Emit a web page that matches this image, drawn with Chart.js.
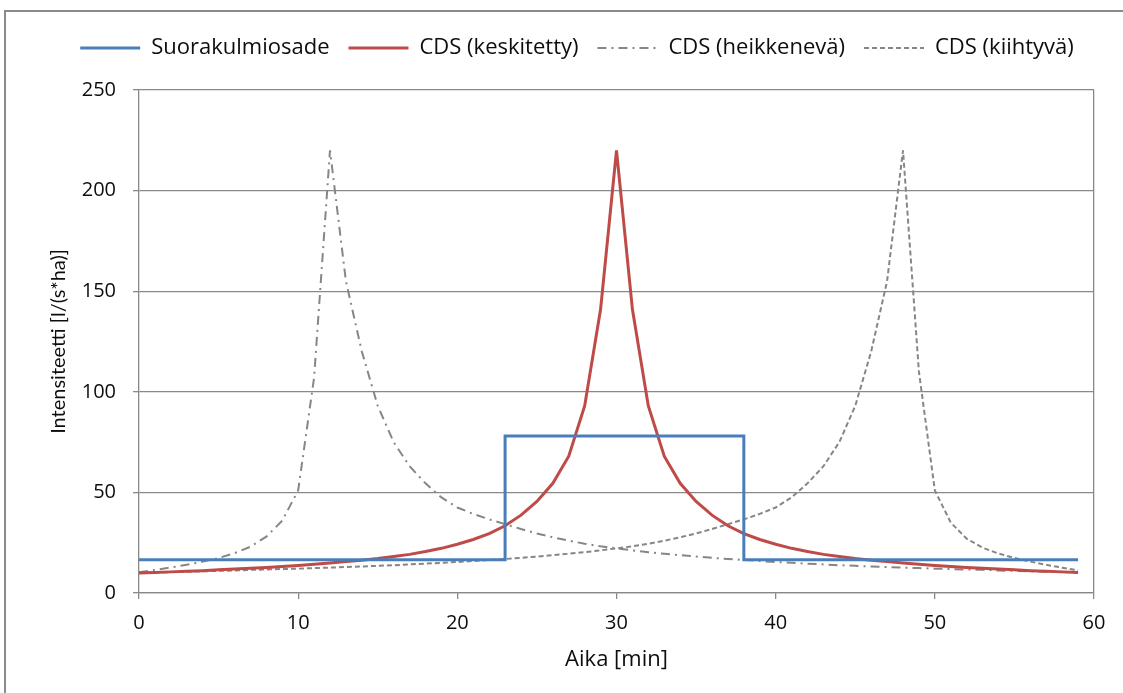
<!DOCTYPE html>
<html>
<head>
<meta charset="utf-8">
<script src="https://cdn.jsdelivr.net/npm/chart.js@4/dist/chart.umd.min.js"></script>
<style>
  html, body { margin: 0; padding: 0; background: #ffffff; }
  #wrap { width: 1123px; height: 693px; position: relative; }
</style>
</head>
<body>
<div id="wrap"><canvas id="c" width="1123" height="693"></canvas></div>
<script>
// ---- data ----
const minutes = [0,1,2,3,4,5,6,7,8,9,10,11,12,13,14,15,16,17,18,19,20,21,22,23,24,25,26,27,28,29,
                 30,31,32,33,34,35,36,37,38,39,40,41,42,43,44,45,46,47,48,49,50,51,52,53,54,55,56,57,58,59];

const rectTimes  = [0, 23, 23, 38, 38, 59];
const rectValues = [16.5, 16.5, 78, 78, 16.5, 16.5];

const cdsCentered = [10.0,10.2,10.5,10.8,11.1,11.5,11.9,12.3,12.7,13.2,13.7,14.3,14.9,15.6,16.3,17.1,18.1,19.2,20.6,22.2,
                     24.2,26.6,29.5,33.4,38.7,45.5,54.5,68,93,141,220,141,93,68,54.5,45.5,38.7,33.4,29.5,26.6,
                     24.2,22.2,20.6,19.2,18.1,17.1,16.3,15.6,14.9,14.3,13.7,13.2,12.7,12.3,11.9,11.5,11.1,10.8,10.5,10.2];

const cdsDecreasing = [10.3,11.4,12.7,14.0,15.6,17.4,19.8,23.0,28.0,36.0,51.0,107,220,155,120,93,75,63,54.5,47.5,
                       42.5,39.3,36.6,34.2,31.8,29.6,27.7,26.0,24.5,23.2,22.2,21.2,20.3,19.5,18.8,18.1,17.5,16.9,16.4,15.9,
                       15.4,15.0,14.6,14.2,13.8,13.5,13.2,12.9,12.6,12.4,12.1,11.9,11.7,11.5,11.2,11.0,10.8,10.6,10.4,10.2];

const cdsAccelerating = [10.0,10.2,10.4,10.6,10.8,11.0,11.2,11.5,11.7,11.9,12.1,12.4,12.6,12.9,13.2,13.5,13.8,14.2,14.6,15.0,
                         15.4,15.9,16.4,16.9,17.5,18.1,18.8,19.5,20.3,21.2,22.2,23.2,24.5,26.0,27.7,29.6,31.8,34.2,36.6,39.3,
                         42.5,47.5,54.5,63,75,93,120,155,220,110,51,35,27,22.5,19.6,17.4,15.6,14.0,12.6,11.3];

const seriesNames = ['Suorakulmiosade', 'CDS (keskitetty)', 'CDS (heikkenevä)', 'CDS (kiihtyvä)'];
const xTitle = 'Aika [min]';
const yTitle = 'Intensiteetti [l/(s*ha)]';

// ---- styling ----
const WIDE = '"Open Sans", Lato, "Liberation Sans", sans-serif';
const NARROW = 'Lato, "Open Sans", "Liberation Sans", sans-serif';
const GRID = '#898989';
const TEXT = '#0d0d0d';

function toPoints(xs, ys) { return xs.map((x, i) => ({ x: x, y: ys[i] })); }

const PLOT_LEFT = 139, PLOT_RIGHT = 1094, PLOT_TOP = 90, PLOT_BOTTOM = 593;
const LEGEND_TOP = 18;
const LEGEND_SHIFT = 30;

const frame = {
  id: 'frame',
  beforeInit(chart) {
    const fit = chart.legend.fit;
    chart.legend.fit = function () {
      fit.call(this);
      this.height = PLOT_TOP - LEGEND_TOP;
    };
  },
  afterLayout(chart) {
    chart.legend.left += LEGEND_SHIFT;
    chart.legend.right += LEGEND_SHIFT;
  },
  beforeDraw(chart) {
    const ctx = chart.ctx;
    ctx.save();
    ctx.fillStyle = '#ffffff';
    ctx.fillRect(0, 0, chart.width, chart.height);
    ctx.strokeStyle = '#8a8a8a';
    ctx.lineWidth = 2;
    ctx.strokeRect(5, 11, 1200, 800);
    ctx.restore();
  }
};

const common = { pointRadius: 0, pointHoverRadius: 0, showLine: true, fill: false, tension: 0, pointStyle: 'line' };

new Chart(document.getElementById('c'), {
  type: 'scatter',
  data: {
    datasets: [
      Object.assign({}, common, { label: seriesNames[0], data: toPoints(rectTimes, rectValues),
        borderColor: '#4A7EBB', backgroundColor: '#4A7EBB', borderWidth: 3 }),
      Object.assign({}, common, { label: seriesNames[1], data: toPoints(minutes, cdsCentered),
        borderColor: '#BE4B48', backgroundColor: '#BE4B48', borderWidth: 3 }),
      Object.assign({}, common, { label: seriesNames[2], data: toPoints(minutes, cdsDecreasing),
        borderColor: '#868686', backgroundColor: '#868686', borderWidth: 2, borderDash: [9, 5, 2, 5] }),
      Object.assign({}, common, { label: seriesNames[3], data: toPoints(minutes, cdsAccelerating),
        borderColor: '#868686', backgroundColor: '#868686', borderWidth: 2, borderDash: [5, 3] })
    ]
  },
  options: {
    responsive: false,
    animation: false,
    devicePixelRatio: 1,
    layout: { padding: { top: LEGEND_TOP, left: 0, right: 1123 - PLOT_RIGHT, bottom: 0 } },
    plugins: {
      tooltip: { enabled: false },
      legend: {
        display: true,
        position: 'top',
        align: 'center',
        labels: {
          usePointStyle: true,
          pointStyleWidth: 60,
          boxHeight: 20,
          padding: 19,
          color: TEXT,
          font: { family: WIDE, size: 22 },
          generateLabels(chart) {
            return chart.data.datasets.map((ds, i) => ({
              text: ds.label,
              datasetIndex: i,
              fillStyle: ds.borderColor,
              strokeStyle: ds.borderColor,
              lineWidth: ds.borderWidth,
              lineDash: ds.borderDash || [],
              pointStyle: 'line',
              hidden: false,
              fontColor: TEXT
            }));
          }
        }
      }
    },
    scales: {
      x: {
        type: 'linear',
        min: 0, max: 60,
        afterFit(scale) { scale.height = 693 - PLOT_BOTTOM; },
        ticks: { stepSize: 10, color: TEXT, padding: 12, font: { family: WIDE, size: 20 }, maxRotation: 0 },
        grid: {
          color: (c) => (c.tick && c.tick.value === 60) ? GRID : 'rgba(0,0,0,0)',
          tickColor: GRID, tickLength: 6, lineWidth: 1.3
        },
        border: { display: true, color: GRID, width: 1.3 },
        title: { display: true, text: xTitle, color: TEXT, font: { family: WIDE, size: 22 }, padding: { top: 0, bottom: 20 } }
      },
      y: {
        type: 'linear',
        min: 0, max: 250,
        afterFit(scale) { scale.width = PLOT_LEFT; },
        ticks: { stepSize: 50, color: TEXT, padding: 17, font: { family: WIDE, size: 20 } },
        grid: { color: GRID, tickColor: GRID, tickLength: 6, lineWidth: 1.3 },
        border: { display: true, color: GRID, width: 1.3 },
        title: { display: true, text: yTitle, color: TEXT, font: { family: NARROW, size: 20 }, padding: { top: 47, bottom: 0 } }
      }
    }
  },
  plugins: [frame]
});
</script>
</body>
</html>
